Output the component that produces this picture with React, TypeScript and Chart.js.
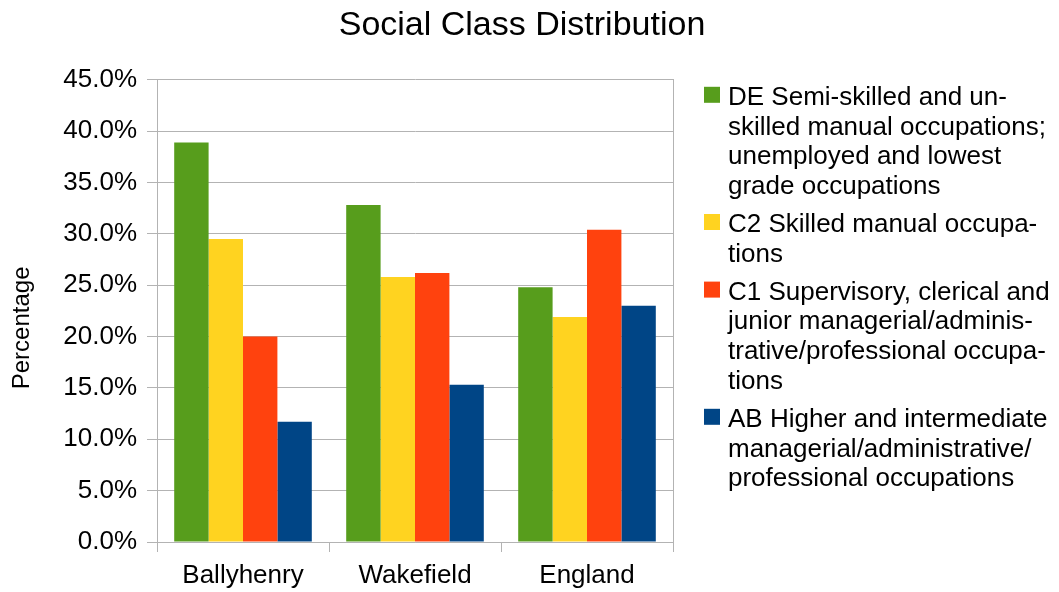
import React, { useEffect, useRef } from "react";
import { Chart, registerables } from "chart.js";

Chart.register(...registerables);

const categories = ["Ballyhenry", "Wakefield", "England"];
const seriesDE = [38.9, 32.8, 24.8];
const seriesC2 = [29.5, 25.8, 21.9];
const seriesC1 = [20.0, 26.2, 30.4];
const seriesAB = [11.7, 15.3, 23.0];

const legendDE = ["DE Semi-skilled and un-", "skilled manual occupations;", "unemployed and lowest", "grade occupations"];
const legendC2 = ["C2 Skilled manual occupa-", "tions"];
const legendC1 = ["C1 Supervisory, clerical and", "junior managerial/adminis-", "trative/professional occupa-", "tions"];
const legendAB = ["AB Higher and intermediate", "managerial/administrative/", "professional occupations"];

const colors = ["#579D1C", "#FFD320", "#FF420E", "#004586"];
const yTicks = { min: 0, max: 45, step: 5 };
const titleText = "Social Class Distribution";
const yTitleText = "Percentage";

const FONT = '"Liberation Sans", Arial, sans-serif';
const GRID = "#b3b3b3";

const sideLegend = {
  id: "sideLegend",
  afterDraw(chart: any) {
    const { ctx, chartArea } = chart;
    ctx.save();
    // y-axis title
    ctx.save();
    ctx.font = `24px ${FONT}`;
    ctx.fillStyle = "#000";
    ctx.textAlign = "center";
    ctx.textBaseline = "middle";
    ctx.translate(22, (chartArea.top + chart.height) / 2 - 8);
    ctx.rotate(-Math.PI / 2);
    ctx.fillText(yTitleText, 0, 0);
    ctx.restore();

    const groups = [legendDE, legendC2, legendC1, legendAB];
    ctx.font = `26px ${FONT}`;
    ctx.textAlign = "left";
    ctx.textBaseline = "alphabetic";
    const boxX = chartArea.right + 31;
    const textX = chartArea.right + 55;
    let baseline = chartArea.top + 25;
    groups.forEach((lines, i) => {
      ctx.fillStyle = colors[i];
      ctx.fillRect(boxX, baseline - 18, 16, 16);
      ctx.fillStyle = "#000";
      lines.forEach((line) => {
        ctx.fillText(line, textX, baseline);
        baseline += 29.8;
      });
      baseline += 8;
    });
    ctx.restore();
  },
};

export default function App() {
  const ref = useRef<HTMLCanvasElement | null>(null);
  useEffect(() => {
    document.body.style.margin = "0";
    const canvas = ref.current!;
    const mk = (label: string[], data: number[], color: string) => ({
      label: label.join(" "),
      data,
      backgroundColor: color,
      borderWidth: 0,
      categoryPercentage: 0.8,
      barPercentage: 1.0,
    });
    const chart = new Chart(canvas, {
      type: "bar",
      data: {
        labels: categories,
        datasets: [
          mk(legendDE, seriesDE, colors[0]),
          mk(legendC2, seriesC2, colors[1]),
          mk(legendC1, seriesC1, colors[2]),
          mk(legendAB, seriesAB, colors[3]),
        ],
      },
      options: {
        animation: false,
        responsive: false,
        layout: { padding: { left: 0, right: 15, top: 0, bottom: 0 } },
        plugins: {
          legend: { display: false },
          tooltip: { enabled: false },
          title: {
            display: true,
            text: titleText,
            color: "#000",
            font: { family: FONT, size: 34, weight: "normal" },
            padding: { top: 5, bottom: 34 },
          },
        },
        scales: {
          x: {
            grid: { drawOnChartArea: false, drawTicks: true, tickLength: 10, color: GRID, offset: true },
            border: { color: GRID },
            ticks: { color: "#000", font: { family: FONT, size: 26 }, padding: 8, maxRotation: 0 },
            afterFit: (s: any) => { s.height = 50; },
          },
          y: {
            min: yTicks.min,
            max: yTicks.max,
            grid: { color: GRID, tickLength: 10 },
            border: { color: GRID },
            ticks: {
              stepSize: yTicks.step,
              color: "#000",
              font: { family: FONT, size: 26 },
              padding: 10,
              callback: (v: any) => Number(v).toFixed(1) + "%",
            },
            afterFit: (s: any) => { s.width = 157; },
          },
          y2: {
            position: "right",
            display: true,
            grid: { drawOnChartArea: false, drawTicks: false },
            border: { display: true, color: GRID },
            ticks: { display: false },
            afterFit: (s: any) => { s.width = 371; },
          },
        },
      },
      plugins: [sideLegend],
    } as any);
    return () => chart.destroy();
  }, []);
  return <canvas ref={ref} width={1059} height={592} style={{ display: "block" }} />;
}
